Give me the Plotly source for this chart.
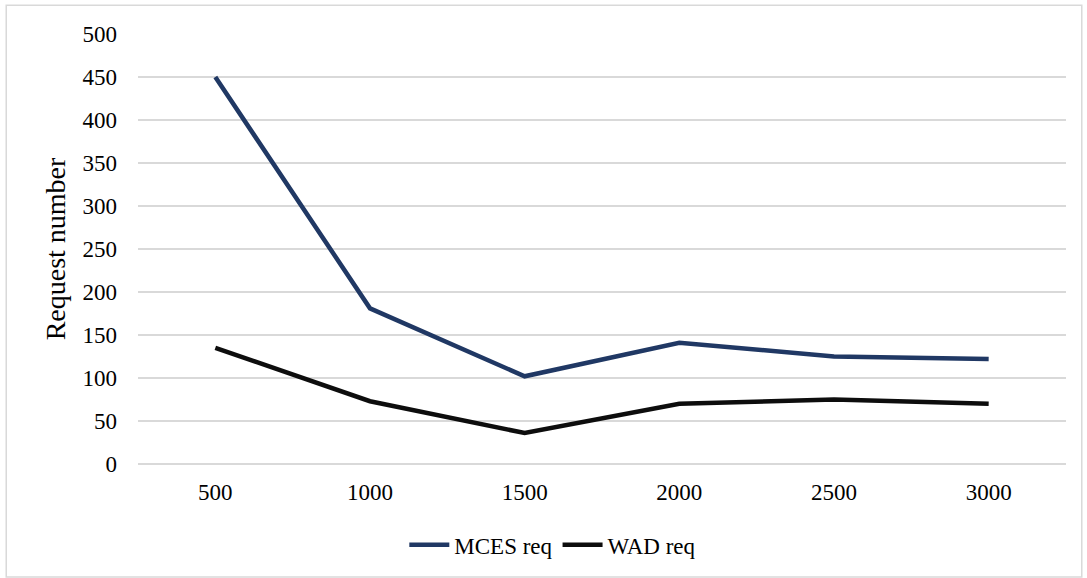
import plotly.graph_objects as go

# Load sizes on the x axis and request counts for each method
categories = ["500", "1000", "1500", "2000", "2500", "3000"]
mces_req = [450, 181, 102, 141, 125, 122]
wad_req = [135, 73, 36, 70, 75, 70]
y_ticks = [0, 50, 100, 150, 200, 250, 300, 350, 400, 450, 500]

FONT = "Times New Roman, Liberation Serif, Tinos, DejaVu Serif, serif"

fig = go.Figure()
fig.add_trace(go.Scatter(
    x=categories, y=mces_req, name="MCES req", mode="lines",
    line=dict(color="#203864", width=4.5),
))
fig.add_trace(go.Scatter(
    x=categories, y=wad_req, name="WAD req", mode="lines",
    line=dict(color="#0d0d0d", width=4.5),
))

# outer chart frame
fig.add_shape(
    type="rect", xref="paper", yref="paper",
    x0=-0.142, x1=1.017, y0=-0.263, y1=1.067,
    line=dict(color="#d9d9d9", width=1.5), fillcolor="rgba(0,0,0,0)", layer="below",
)

fig.update_layout(
    width=1087, height=578,
    margin=dict(l=138, r=21, t=34, b=114),
    paper_bgcolor="white", plot_bgcolor="white",
    font=dict(family=FONT, size=23, color="#000000"),
    showlegend=True,
    legend=dict(
        orientation="h", x=0.447, xanchor="center", y=-0.188, yanchor="middle",
        font=dict(family=FONT, size=23), itemwidth=40, tracegroupgap=0,
    ),
    xaxis=dict(
        type="category", range=[-0.5, 5.5], showgrid=False, showline=False,
        zeroline=False, ticks="", ticklabelstandoff=12,
        tickfont=dict(family=FONT, size=23),
    ),
    yaxis=dict(
        range=[0, 500], tickvals=y_ticks, showgrid=True, gridcolor="#d9d9d9",
        gridwidth=1.5, zeroline=True, zerolinecolor="#d9d9d9", zerolinewidth=1.5,
        showline=False, ticks="", ticklabelstandoff=20,
        tickfont=dict(family=FONT, size=23),
        title=dict(text="Request number", font=dict(family=FONT, size=28), standoff=8),
    ),
)

fig.write_html("out.html")
